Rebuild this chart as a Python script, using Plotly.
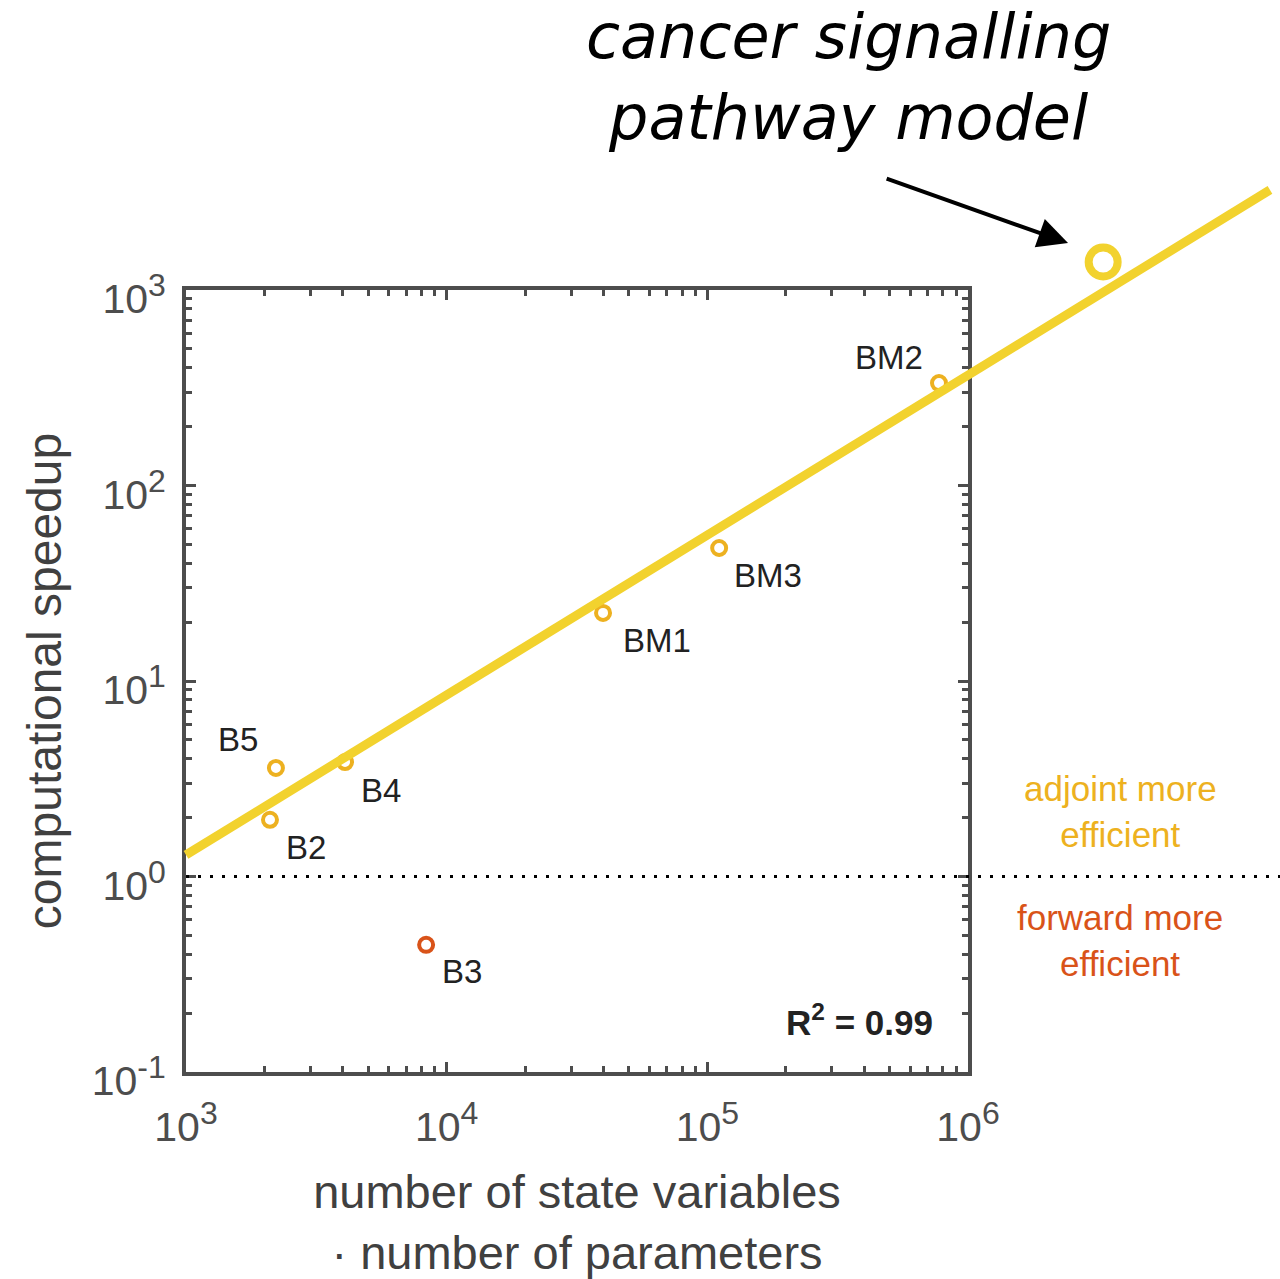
import numpy as np
import plotly.graph_objects as go

W, H = 1280, 1279

# ---------------- data ----------------
names = ["B2", "B3", "B4", "B5", "BM1", "BM2", "BM3"]
x_vals = [2100, 8340, 4075, 2213, 39800, 774000, 111000]
y_vals = [1.95, 0.447, 3.85, 3.59, 22.3, 334, 47.9]
efficient = ["adjoint", "forward", "adjoint", "adjoint", "adjoint", "adjoint", "adjoint"]

cancer_x = [3.3e6]
cancer_y = [1390]

fit_x = [1e3, 1.44e7]
fit_y = [1.29, 3250]

ref_x = [1e3, 2e7]
ref_y = [1, 1]

r_squared = 0.99

x_exponents = [3, 4, 5, 6]
y_exponents = [-1, 0, 1, 2, 3]

# ---------------- styles ----------------
C_ADJ = "#EDB120"
C_FWD = "#D95319"
C_FIT = "#F2D22E"
C_AX = "#4D4D4D"
FONT = "Liberation Sans"

def pow_label(e):
    return "10<sup><span style='font-size:32px'>%d</span></sup>" % e

xtick_vals = [10.0 ** e for e in x_exponents]
xtick_text = [pow_label(e) for e in x_exponents]
ytick_vals = [10.0 ** e for e in y_exponents]
ytick_text = [pow_label(e) for e in y_exponents]

color_map = {"adjoint": C_ADJ, "forward": C_FWD}
# label placement: (xanchor, xshift, yshift)
label_pos = {
    "B2": ("left", 14, -28),
    "B3": ("left", 14, -27),
    "B4": ("left", 14, -28),
    "B5": ("right", -16, 28),
    "BM1": ("left", 18, -28),
    "BM2": ("right", -14, 26),
    "BM3": ("left", 13, -28),
}

# main plotting box in pixels
bx0, bx1 = 186, 968
by0, by1 = 290, 1072
dx0, dx1 = bx0 / W, bx1 / W
dy0, dy1 = 1 - by1 / H, 1 - by0 / H
xr = [3, 6]
yr = [-1, 3]

# overlay axes spanning whole figure with identical scale
sx = (xr[1] - xr[0]) / (dx1 - dx0)
sy = (yr[1] - yr[0]) / (dy1 - dy0)
xr2 = [xr[0] - dx0 * sx, xr[1] + (1 - dx1) * sx]
yr2 = [yr[0] - dy0 * sy, yr[1] + (1 - dy1) * sy]

fig = go.Figure()

# data points (main subplot)
fig.add_trace(go.Scatter(
    x=x_vals, y=y_vals, mode="markers",
    marker=dict(symbol="circle-open", size=14,
                color=[color_map[e] for e in efficient],
                line=dict(width=4, color=[color_map[e] for e in efficient])),
    xaxis="x", yaxis="y", showlegend=False, hoverinfo="skip"))

# overlay: reference line, fit line, cancer model point
fig.add_trace(go.Scatter(
    x=ref_x, y=ref_y, mode="lines",
    line=dict(color="black", width=3, dash="3px,9px"),
    xaxis="x2", yaxis="y2", showlegend=False, hoverinfo="skip"))
fig.add_trace(go.Scatter(
    x=fit_x, y=fit_y, mode="lines",
    line=dict(color=C_FIT, width=9),
    xaxis="x2", yaxis="y2", showlegend=False, hoverinfo="skip"))
fig.add_trace(go.Scatter(
    x=cancer_x, y=cancer_y, mode="markers",
    marker=dict(symbol="circle-open", size=29, color=C_FIT,
                line=dict(width=8, color=C_FIT)),
    xaxis="x2", yaxis="y2", showlegend=False, hoverinfo="skip"))

annotations = []
for n, xv, yv in zip(names, x_vals, y_vals):
    xa, xs, ys = label_pos[n]
    annotations.append(dict(
        x=np.log10(xv), y=np.log10(yv), xref="x", yref="y",
        text=n, showarrow=False, xanchor=xa, yanchor="middle",
        xshift=xs, yshift=ys,
        font=dict(family=FONT, size=33, color="#222222")))

annotations.append(dict(
    x=(bx1 - 33) / W, y=1 - 1020 / H, xref="paper", yref="paper",
    text="<b>R<sup>2</sup> = %.2f</b>" % r_squared, showarrow=False,
    xanchor="right", yanchor="middle",
    font=dict(family=FONT, size=35, color="#222222")))

annotations.append(dict(
    x=1120 / W, y=1 - 811 / H, xref="paper", yref="paper",
    text="adjoint more<br>efficient", showarrow=False,
    xanchor="center", yanchor="middle",
    font=dict(family=FONT, size=35, color=C_ADJ)))
annotations.append(dict(
    x=1120 / W, y=1 - 940 / H, xref="paper", yref="paper",
    text="forward more<br>efficient", showarrow=False,
    xanchor="center", yanchor="middle",
    font=dict(family=FONT, size=35, color=C_FWD)))

annotations.append(dict(
    x=848 / W, y=1 - 77 / H, xref="paper", yref="paper",
    text="cancer signalling<br>pathway model", showarrow=False,
    xanchor="center", yanchor="middle",
    font=dict(family="DejaVu Sans", size=62, color="black", style="italic")))

# arrow pointing to the cancer model point
annotations.append(dict(
    x=np.log10(2.42e6), y=np.log10(1738), xref="x2", yref="y2",
    ax=np.log10(4.81e5), ay=np.log10(3740), axref="x2", ayref="y2",
    text="", showarrow=True, arrowhead=2, arrowsize=1.5, arrowwidth=4,
    arrowcolor="black"))

axis_common = dict(
    type="log", showgrid=False, zeroline=False, showline=True,
    linecolor=C_AX, linewidth=4, mirror="ticks",
    ticks="inside", ticklen=10, tickwidth=3, tickcolor=C_AX,
    tickmode="array",
    tickfont=dict(family=FONT, size=41, color=C_AX),
    minor=dict(ticks="inside", ticklen=6, tickwidth=3, tickcolor=C_AX,
               dtick="D1", showgrid=False),
)

fig.update_layout(
    width=W, height=H,
    margin=dict(l=0, r=0, t=0, b=0, autoexpand=False),
    paper_bgcolor="white", plot_bgcolor="rgba(0,0,0,0)",
    showlegend=False,
    xaxis=dict(axis_common, domain=[dx0, dx1], range=xr, anchor="y",
               tickvals=xtick_vals, ticktext=xtick_text, ticklabelstandoff=16,
               title=dict(text="number of state variables<br>· number of parameters",
                          font=dict(family=FONT, size=47, color="#404040"),
                          standoff=28)),
    yaxis=dict(axis_common, domain=[dy0, dy1], range=yr, anchor="x",
               tickvals=ytick_vals, ticktext=ytick_text, ticklabelstandoff=8,
               ticklabelshift=9,
               title=dict(text="computational speedup",
                          font=dict(family=FONT, size=48, color="#404040"),
                          standoff=16)),
    xaxis2=dict(type="log", range=xr2, domain=[0, 1], anchor="y2", visible=False,
                showgrid=False, zeroline=False),
    yaxis2=dict(type="log", range=yr2, domain=[0, 1], anchor="x2", visible=False,
                showgrid=False, zeroline=False),
    annotations=annotations,
)

fig.write_html("out.html")
